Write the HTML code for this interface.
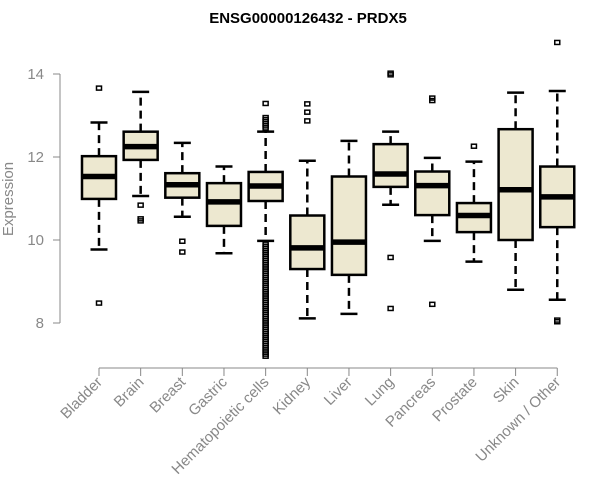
<!DOCTYPE html>
<html><head><meta charset="utf-8"><style>
body{margin:0;background:#fff;}
svg{display:block;font-family:"Liberation Sans",Arial,sans-serif;}
</style></head><body>
<svg id="chart" width="600" height="500" viewBox="0 0 600 500">
<text x="308" y="23" text-anchor="middle" font-size="15" font-weight="bold" fill="#000">ENSG00000126432 - PRDX5</text>
<text transform="translate(13,199) rotate(-90)" text-anchor="middle" font-size="15" fill="#888">Expression</text>
<g id="plot"></g>
</svg>
<script>
const categories = ["Bladder","Brain","Breast","Gastric","Hematopoietic cells","Kidney","Liver","Lung","Pancreas","Prostate","Skin","Unknown / Other"];
const q1 = [10.99,11.93,11.02,10.34,10.94,9.30,9.16,11.28,10.60,10.19,10.00,10.31];
const medians = [11.53,12.25,11.33,10.92,11.30,9.81,9.95,11.59,11.31,10.59,11.21,11.04];
const q3 = [12.02,12.61,11.61,11.37,11.64,10.59,11.53,12.31,11.65,10.89,12.67,11.77];
const whiskerLow = [9.77,11.06,10.56,9.68,9.98,8.11,8.22,10.85,9.98,9.48,8.80,8.56];
const whiskerHigh = [12.83,13.57,12.34,11.77,12.61,11.91,12.39,12.61,11.98,11.89,13.55,13.59];
const outliers = [
 [13.66,8.48],
 [10.84,10.51,10.46],
 [9.97,9.71],
 [],
 [13.29,12.95,12.9,12.85,12.8,12.75,12.7,9.9,9.85,9.8,9.75,9.7,9.65,9.6,9.55,9.5,9.45,9.4,9.35,9.3,9.25,9.2,9.15,9.1,9.05,9.0,8.95,8.9,8.85,8.8,8.75,8.7,8.65,8.6,8.55,8.5,8.45,8.4,8.35,8.3,8.25,8.2,8.15,8.1,8.05,8.0,7.95,7.9,7.85,7.8,7.75,7.7,7.65,7.6,7.55,7.5,7.45,7.4,7.35,7.3,7.25,7.2],
 [13.28,13.08,12.87],
 [],
 [14.02,13.98,9.58,8.35],
 [13.42,13.36,8.45],
 [12.26],
 [],
 [14.76,8.07,8.03]
];
const yTicks = [8,10,12,14];

const NS="http://www.w3.org/2000/svg";
const plot=document.getElementById('plot');
const yScale=v=>74+(14-v)*41.5;
const xScale=i=>99+41.66*i;
function mk(tag,attrs){const e=document.createElementNS(NS,tag);for(const k in attrs)e.setAttribute(k,attrs[k]);plot.appendChild(e);return e;}

let ya=mk('line',{x1:60,x2:60,y1:yScale(14),y2:yScale(8),stroke:'#888','stroke-width':1});


yTicks.forEach(t=>{
 let l=mk('line',{x1:53,x2:60,y1:yScale(t),y2:yScale(t),stroke:'#888','stroke-width':1});
 
 
 let tx=mk('text',{x:44,y:yScale(t)+5,'text-anchor':'end','font-size':15,fill:'#888'});
 tx.textContent=t;
 
 
});
let xa=mk('line',{x1:xScale(0),x2:xScale(categories.length-1),y1:368,y2:368,stroke:'#888','stroke-width':1});


categories.forEach((c,i)=>{
 const x=xScale(i);
 let t=mk('line',{x1:x,x2:x,y1:368,y2:376,stroke:'#888','stroke-width':1});
 
 
 let tx=mk('text',{transform:`translate(${x+4},383) rotate(-45)`,'text-anchor':'end','font-size':15,fill:'#888'});
 tx.textContent=c;
 
 

 const hw=17, cw=8.5;
 let w1=mk('line',{x1:x,x2:x,y1:yScale(q3[i]),y2:yScale(whiskerHigh[i]),stroke:'#000','stroke-width':2.5,'stroke-dasharray':'8,5'});
 
 
 let w2=mk('line',{x1:x,x2:x,y1:yScale(q1[i]),y2:yScale(whiskerLow[i]),stroke:'#000','stroke-width':2.5,'stroke-dasharray':'8,5'});
 
 
 let c1=mk('line',{x1:x-cw,x2:x+cw,y1:yScale(whiskerHigh[i]),y2:yScale(whiskerHigh[i]),stroke:'#000','stroke-width':2.5});
 
 
 let c2=mk('line',{x1:x-cw,x2:x+cw,y1:yScale(whiskerLow[i]),y2:yScale(whiskerLow[i]),stroke:'#000','stroke-width':2.5});
 
 
 let b=mk('rect',{x:x-hw,y:yScale(q3[i]),width:hw*2,height:yScale(q1[i])-yScale(q3[i]),fill:'#ede8d0',stroke:'#000','stroke-width':2.5});
 
 
 let m=mk('line',{x1:x-hw,x2:x+hw,y1:yScale(medians[i]),y2:yScale(medians[i]),stroke:'#000','stroke-width':5.5});
 
 
 outliers[i].forEach(v=>{
  let o=mk('rect',{x:x-2.5,y:yScale(v)-2,width:5,height:4,fill:'none',stroke:'#000','stroke-width':1.5});
  
  
 });
});
</script>
</body></html>
